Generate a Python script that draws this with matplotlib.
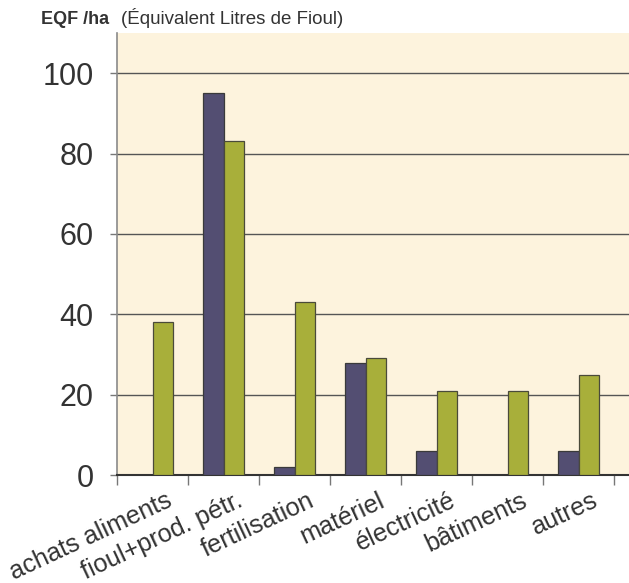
import matplotlib
matplotlib.use("Agg")
import matplotlib.pyplot as plt
import matplotlib.transforms as mtransforms
import numpy as np

categories = ["achats aliments", "fioul+prod. pétr.", "fertilisation", "matériel",
              "électricité", "bâtiments", "autres"]
series_a = [0, 95, 2, 28, 6, 0, 6]
series_b = [38, 83, 43, 29, 21, 21, 25]
y_ticks = [0, 20, 40, 60, 80, 100]

plt.rcParams["font.family"] = ["Liberation Sans", "DejaVu Sans"]

fig = plt.figure(figsize=(6.29, 5.83), dpi=100)
fig.patch.set_facecolor("white")
ax = fig.add_axes([0.186, 0.1852, 0.814, 0.7582])
ax.set_facecolor("#FDF3DD")

x = np.arange(len(categories))
w = 0.29
ax.bar(x - w / 2, series_a, width=w, color="#534E72", edgecolor="#3a3a3a", linewidth=0.9, zorder=3)
ax.bar(x + w / 2, series_b, width=w, color="#A8AF3A", edgecolor="#4a4a3a", linewidth=0.9, zorder=3)

ax.set_ylim(0, 110)
ax.set_xlim(-0.5, 6.71)
ax.set_yticks(y_ticks)
ax.set_yticklabels([str(v) for v in y_ticks], fontsize=22, color="#333333")
ax.yaxis.grid(True, color="#555555", linewidth=1.0, zorder=1)
ax.tick_params(axis="y", length=5, width=1, color="#777777", pad=12)

# category labels at centres, tick marks at group boundaries
ax.set_xticks(x)
ax.set_xticklabels(categories, rotation=25, ha="right", va="baseline",
                   rotation_mode="anchor", fontsize=18.2, color="#333333")
ax.tick_params(axis="x", which="major", length=0, pad=22)
ax.set_xticks(np.arange(-0.5, 7.0, 1.0), minor=True)
ax.tick_params(axis="x", which="minor", length=7, width=1, color="#777777", direction="out")
shift = mtransforms.ScaledTranslation(21 / 100, 0, fig.dpi_scale_trans)
for lbl in ax.get_xticklabels():
    lbl.set_transform(lbl.get_transform() + shift)

for side in ["top", "right"]:
    ax.spines[side].set_visible(False)
ax.spines["left"].set_color("#8a8a8a")
ax.spines["left"].set_linewidth(1.2)
ax.spines["bottom"].set_color("#333333")
ax.spines["bottom"].set_linewidth(1.5)

fig.text(41 / 629, 1 - 19 / 583, "EQF /ha", fontsize=13, fontweight="bold",
         color="#333333", va="center", ha="left")
fig.text(121 / 629, 1 - 18 / 583, "(Équivalent Litres de Fioul)", fontsize=13.5,
         color="#333333", va="center", ha="left")

fig.savefig("out.png", dpi=100)
